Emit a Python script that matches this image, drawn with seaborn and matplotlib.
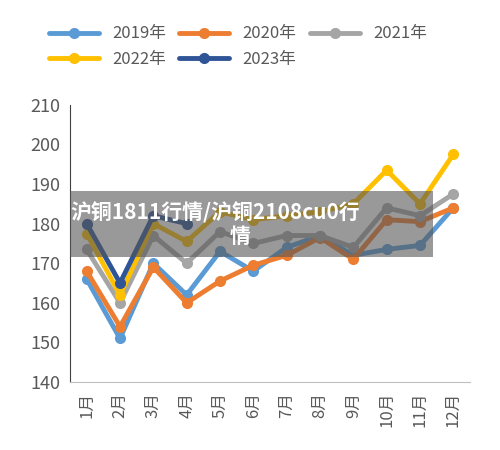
import matplotlib.pyplot as plt
import seaborn as sns
import pandas as pd

months = ['1月', '2月', '3月', '4月', '5月', '6月', '7月', '8月', '9月', '10月', '11月', '12月']
v2019 = [166, 151, 170, 162, 173, 168, 174, 177, 172, 173.5, 174.5, 184]
v2020 = [168, 154, 169, 160, 165.5, 169.5, 172, 176.5, 171, 181, 180.5, 184]
v2021 = [173.5, 160, 177, 170, 178, 175, 177, 177, 174, 184, 182, 187.5]
v2022 = [177.5, 162, 180, 175.5, 183, 181, 182, 183, 185, 193.5, 185, 197.5]
v2023 = [180, 165, 182, 180]

series = {'2019年': v2019, '2020年': v2020, '2021年': v2021, '2022年': v2022, '2023年': v2023}
colors = ['#5b9bd5', '#ed7d31', '#a5a5a5', '#ffc000', '#2f5597']

rows = []
for name, vals in series.items():
    for i, v in enumerate(vals):
        rows.append({'month': i, 'value': v, 'year': name})
df = pd.DataFrame(rows)

sns.set_style('white')
plt.rcParams['font.family'] = ['Noto Sans CJK SC', 'DejaVu Sans']

fig, ax = plt.subplots(figsize=(5, 4.5), dpi=100)
sns.lineplot(data=df, x='month', y='value', hue='year', palette=colors,
             marker='o', markersize=8, markeredgewidth=0, linewidth=3.5, ax=ax)

ax.set_xlim(-0.5, 11.5)
ax.set_ylim(140, 210)
ax.set_yticks(range(140, 211, 10))
ax.set_xticks(range(12))
ax.set_xticklabels(months, rotation=90, fontsize=12, color='#595959')
ax.tick_params(axis='y', labelsize=13, colors='#595959')
ax.set_xlabel('')
ax.set_ylabel('')
for s in ['top', 'right']:
    ax.spines[s].set_visible(False)
ax.spines['left'].set_color('#404040')
ax.spines['bottom'].set_color('#bfbfbf')

# row-wise legend order
h, l = ax.get_legend_handles_labels()
order = [0, 3, 1, 4, 2]
ax.legend([h[i] for i in order], [l[i] for i in order],
          loc='lower center', bbox_to_anchor=(0.42, 1.08), ncol=3, frameon=False,
          fontsize=12, handlelength=3, columnspacing=0.8, labelcolor='#595959')

fig.text(0.14, 0.5, '沪铜1811行情/沪铜2108cu0行\n', ha='left', va='center',
         fontsize=15, fontweight='bold', color='white')
fig.text(0.48, 0.475, '情', ha='center', va='center',
         fontsize=15, fontweight='bold', color='white')
fig.patches.append(plt.Rectangle((0.14, 0.43), 0.725, 0.145, transform=fig.transFigure,
                                 facecolor='#555555', alpha=0.6, edgecolor='none', zorder=0))
for t in fig.texts:
    t.set_zorder(5)

fig.subplots_adjust(left=0.14, right=0.94, top=0.767, bottom=0.151)
fig.savefig('out.png')
